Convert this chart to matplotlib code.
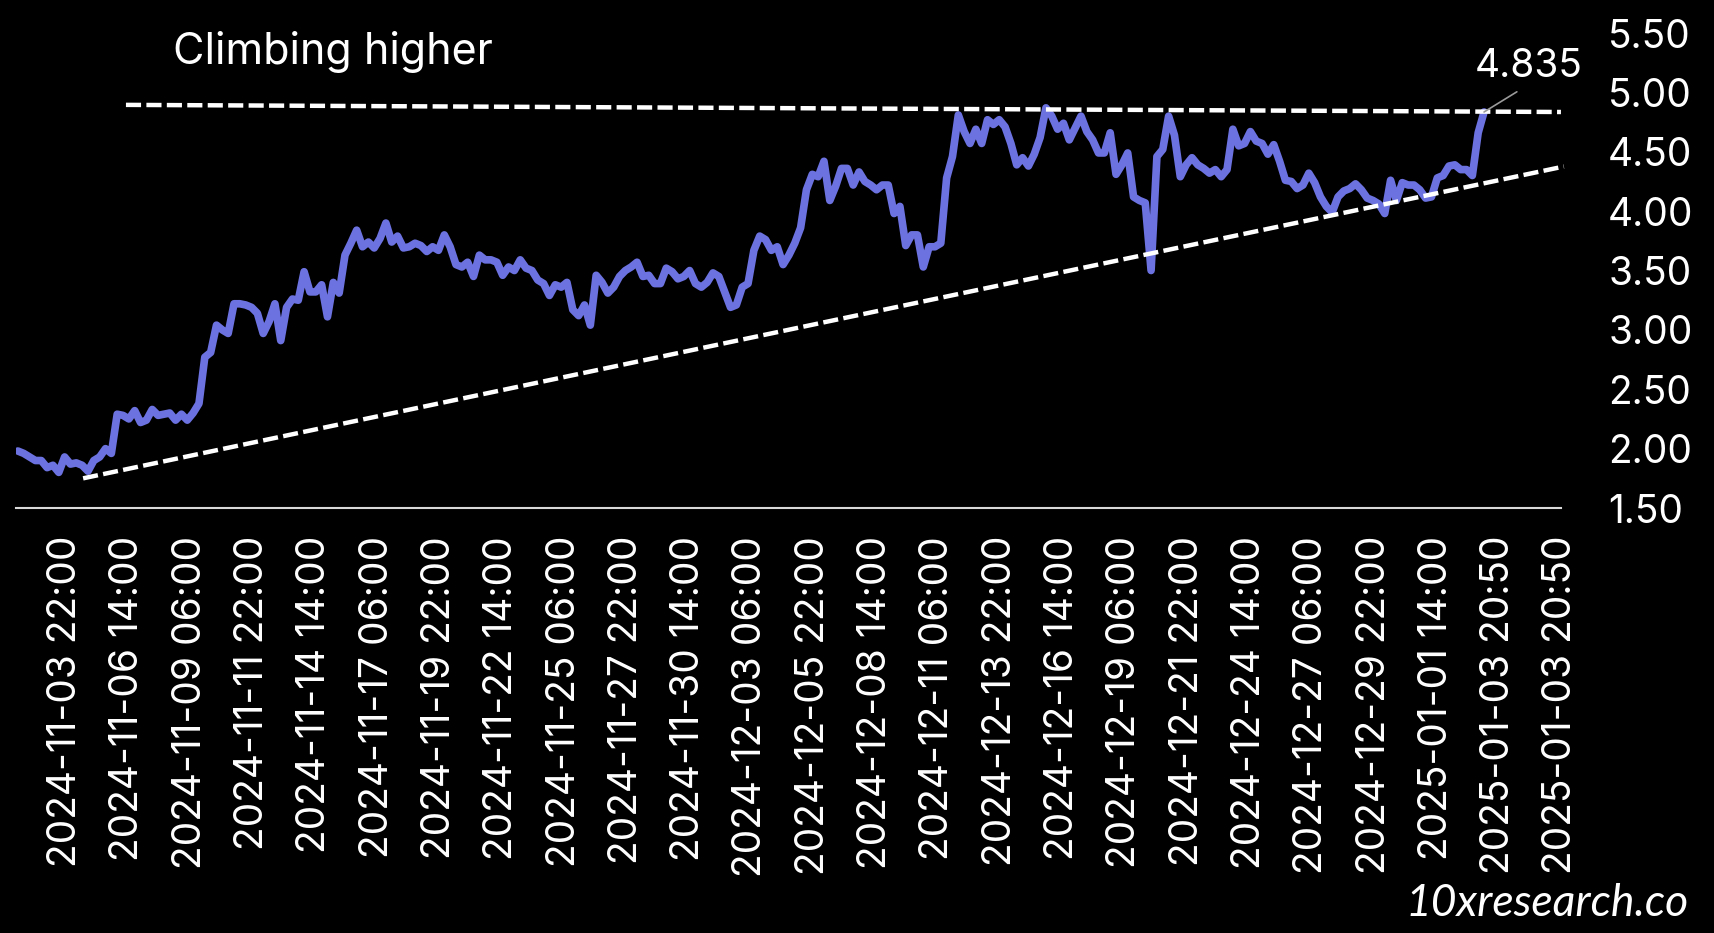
import matplotlib
matplotlib.use("Agg")
import matplotlib.pyplot as plt
import pandas as pd

plt.rcParams['font.family'] = ['Inter', 'DejaVu Sans']

# ---- data ----
start_time = "2024-11-01 21:00"
step = "6h"
prices = [
    1.98, 1.96, 1.93, 1.90, 1.90, 1.84, 1.86, 1.80, 1.93, 1.87, 1.88, 1.86, 1.81, 1.90, 1.93, 2.00, 1.96,
    2.29, 2.28, 2.25, 2.32, 2.22, 2.24, 2.33, 2.28, 2.29, 2.30, 2.24, 2.29, 2.24, 2.30, 2.38, 2.77, 2.81, 3.04,
    3.00, 2.97, 3.22, 3.22, 3.21, 3.19, 3.14, 2.97, 3.07, 3.22, 2.91, 3.19, 3.26, 3.25, 3.49, 3.32, 3.32,
    3.38, 3.11, 3.40, 3.31, 3.63, 3.73, 3.84, 3.70, 3.74, 3.69, 3.77, 3.90, 3.74, 3.79, 3.69, 3.70, 3.73, 3.71,
    3.66, 3.70, 3.67, 3.80, 3.70, 3.55, 3.53, 3.57, 3.45, 3.63, 3.59, 3.59, 3.57, 3.46, 3.53, 3.50, 3.59,
    3.52, 3.50, 3.42, 3.39, 3.29, 3.38, 3.36, 3.40, 3.17, 3.12, 3.21, 3.04, 3.46, 3.40, 3.31, 3.36, 3.45, 3.50,
    3.53, 3.57, 3.45, 3.46, 3.39, 3.39, 3.52, 3.49, 3.43, 3.45, 3.50, 3.39, 3.36, 3.40, 3.48, 3.45, 3.32,
    3.19, 3.21, 3.36, 3.39, 3.67, 3.79, 3.76, 3.67, 3.70, 3.55, 3.63, 3.73, 3.86, 4.18, 4.31, 4.29, 4.42, 4.09,
    4.21, 4.36, 4.36, 4.22, 4.33, 4.25, 4.22, 4.18, 4.22, 4.22, 3.98, 4.04, 3.71, 3.80, 3.80, 3.53, 3.70,
    3.70, 3.73, 4.28, 4.46, 4.81, 4.67, 4.57, 4.69, 4.57, 4.77, 4.73, 4.77, 4.71, 4.57, 4.39, 4.45, 4.38, 4.48,
    4.62, 4.87, 4.80, 4.69, 4.74, 4.60, 4.70, 4.80, 4.67, 4.60, 4.49, 4.49, 4.66, 4.31, 4.39, 4.49, 4.12,
    4.09, 4.07, 3.50, 4.46, 4.52, 4.80, 4.64, 4.29, 4.39, 4.45, 4.39, 4.36, 4.32, 4.35, 4.29, 4.35, 4.69, 4.55,
    4.57, 4.67, 4.59, 4.57, 4.48, 4.56, 4.42, 4.26, 4.25, 4.19, 4.22, 4.32, 4.24, 4.12, 4.04, 3.99, 4.12,
    4.17, 4.19, 4.23, 4.18, 4.11, 4.09, 4.06, 3.98, 4.26, 4.09, 4.24, 4.22, 4.22, 4.18, 4.11, 4.12, 4.28,
    4.30, 4.38, 4.39, 4.35, 4.35, 4.30, 4.66, 4.835,
]
last_label = "4.835"

tick_start = "2024-11-03 22:00"
tick_step = "64h"
tick_labels = [
    "2024-11-03 22:00", "2024-11-06 14:00", "2024-11-09 06:00", "2024-11-11 22:00",
    "2024-11-14 14:00", "2024-11-17 06:00", "2024-11-19 22:00", "2024-11-22 14:00",
    "2024-11-25 06:00", "2024-11-27 22:00", "2024-11-30 14:00", "2024-12-03 06:00",
    "2024-12-05 22:00", "2024-12-08 14:00", "2024-12-11 06:00", "2024-12-13 22:00",
    "2024-12-16 14:00", "2024-12-19 06:00", "2024-12-21 22:00", "2024-12-24 14:00",
    "2024-12-27 06:00", "2024-12-29 22:00", "2025-01-01 14:00", "2025-01-03 20:50",
    "2025-01-03 20:50",
]
y_ticks = [1.5, 2.0, 2.5, 3.0, 3.5, 4.0, 4.5, 5.0, 5.5]

support_times = ["2024-11-04 16:00", "2025-01-07 01:00"]
support_values = [1.75, 4.376]
resist_times = ["2024-11-06 12:00", "2025-01-06 22:00"]
resist_values = [4.895, 4.835]

title = "Climbing higher"
watermark = "10xresearch.co"

# ---- figure ----
times = pd.date_range(start_time, periods=len(prices), freq=step)
tick_times = pd.date_range(tick_start, periods=len(tick_labels), freq=tick_step)

fig = plt.figure(figsize=(17.14, 9.33), dpi=100, facecolor='black')
ax = fig.add_axes([0.0093, 0.4555, 0.9014, 0.5091], facecolor='black')

line_color = '#6C72E0'
ax.plot(times, prices, color=line_color, lw=5.5, solid_capstyle='round',
        solid_joinstyle='round', zorder=3)

dash = (0, (3.4, 1.2))
ax.plot(pd.to_datetime(support_times), support_values, color='white', lw=3.2,
        linestyle=dash, clip_on=False, zorder=4)
ax.plot(pd.to_datetime(resist_times), resist_values, color='white', lw=3.2,
        linestyle=dash, clip_on=False, zorder=4)

ax.annotate(last_label, xy=(times[-1], prices[-1]), xytext=(32, 33),
            textcoords='offset points', ha='center', va='center',
            color='white', fontsize=28,
            arrowprops=dict(arrowstyle='-', color='#9a9a9a', lw=1.2,
                            shrinkA=6, shrinkB=0, relpos=(0.5, 0.0)),
            annotation_clip=False, zorder=5)

ax.set_ylim(1.5, 5.5)
ax.set_xlim(pd.Timestamp("2024-11-01 19:00"), tick_times[-1])

ax.yaxis.tick_right()
ax.set_yticks(y_ticks)
ax.set_yticklabels([f"{v:.2f}" for v in y_ticks])
ax.tick_params(axis='y', length=0, pad=34, labelsize=28, labelcolor='white')

ax.set_xticks(tick_times)
ax.set_xticklabels(tick_labels, rotation=90)
ax.tick_params(axis='x', length=0, pad=20, labelsize=28, labelcolor='white')

for s in ['top', 'left', 'right']:
    ax.spines[s].set_visible(False)
ax.spines['bottom'].set_color('#d9d9d9')
ax.spines['bottom'].set_linewidth(1.5)

fig.text(0.101, 0.944, title, color='white', fontsize=31, ha='left', va='center')
fig.text(0.9854, 0.010, watermark, color='white', fontsize=32, ha='right', va='bottom',
         family=['Lato', 'DejaVu Sans'], style='italic', weight='normal')

fig.savefig('out.png', dpi=100, facecolor='black')
